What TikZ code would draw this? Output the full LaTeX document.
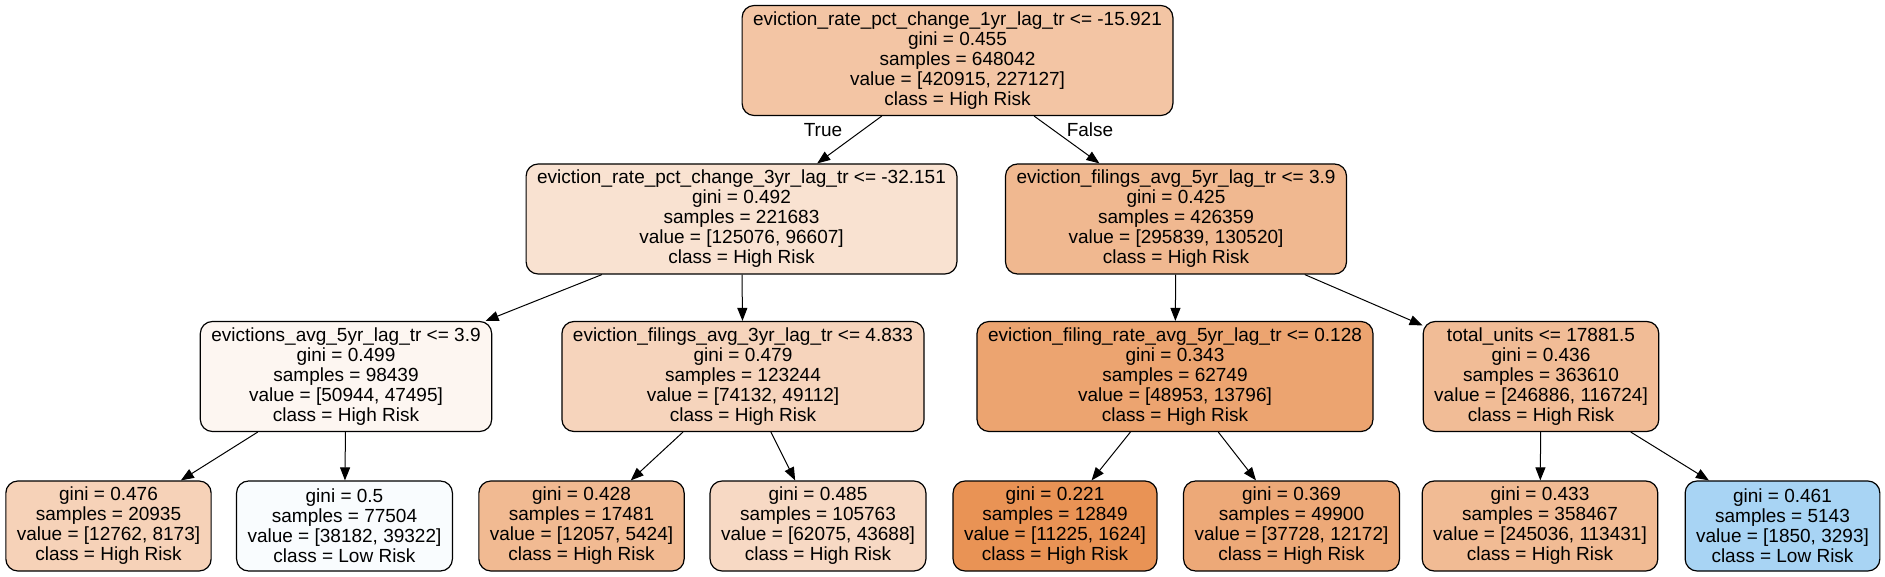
\documentclass[tikz,border=0pt]{standalone}
\usepackage{fontspec}
\setmainfont{Liberation Sans}
\usepackage{tikz}
\usetikzlibrary{arrows.meta,positioning}
\definecolor{hr}{RGB}{229,129,57}
\definecolor{lr}{RGB}{57,157,229}
\tikzstyle{tnode}=[draw=black,line width=0.6pt,rounded corners=6pt,align=center,
  inner xsep=5.5pt,inner ysep=1pt,font=\fontsize{9.5}{10}\selectfont]
\tikzstyle{split}=[tnode,minimum height=55pt]
\tikzstyle{leaf}=[tnode,minimum height=45pt]
\tikzstyle{edge}=[-{Triangle[length=6.5pt,width=5pt]},line width=0.5pt]

\begin{document}
\begin{tikzpicture}[x=0.5pt,y=-0.5pt,
    elabel/.style={inner sep=0pt,font=\fontsize{9.5}{10}\selectfont}
    ]
    \useasboundingbox (0,0) rectangle (1885,577);

    % root
    \node [split,fill=hr!46!white] (n0) at (957.5,60.5)
      {eviction\_rate\_pct\_change\_1yr\_lag\_tr <= -15.921\\gini = 0.455\\samples = 648042\\value = [420915, 227127]\\class = High Risk};

    % depth 1
    \node [split,fill=hr!23!white] (n1) at (741.5,219)
      {eviction\_rate\_pct\_change\_3yr\_lag\_tr <= -32.151\\gini = 0.492\\samples = 221683\\value = [125076, 96607]\\class = High Risk};
    \node [split,fill=hr!56!white] (n2) at (1176,219)
      {eviction\_filings\_avg\_5yr\_lag\_tr <= 3.9\\gini = 0.425\\samples = 426359\\value = [295839, 130520]\\class = High Risk};

    % depth 2
    \node [split,fill=hr!7!white] (n3) at (346,376.5)
      {evictions\_avg\_5yr\_lag\_tr <= 3.9\\gini = 0.499\\samples = 98439\\value = [50944, 47495]\\class = High Risk};
    \node [split,fill=hr!34!white] (n4) at (743,376.5)
      {eviction\_filings\_avg\_3yr\_lag\_tr <= 4.833\\gini = 0.479\\samples = 123244\\value = [74132, 49112]\\class = High Risk};
    \node [split,fill=hr!72!white] (n5) at (1175,376.5)
      {eviction\_filing\_rate\_avg\_5yr\_lag\_tr <= 0.128\\gini = 0.343\\samples = 62749\\value = [48953, 13796]\\class = High Risk};
    \node [split,fill=hr!53!white] (n6) at (1541,376.5)
      {total\_units <= 17881.5\\gini = 0.436\\samples = 363610\\value = [246886, 116724]\\class = High Risk};

    % leaves
    \node [leaf,fill=hr!36!white] (l1) at (108.5,526)
      {gini = 0.476\\samples = 20935\\value = [12762, 8173]\\class = High Risk};
    \node [leaf,fill=lr!3!white] (l2) at (344.5,526)
      {gini = 0.5\\samples = 77504\\value = [38182, 39322]\\class = Low Risk};
    \node [leaf,fill=hr!55!white] (l3) at (581.5,526)
      {gini = 0.428\\samples = 17481\\value = [12057, 5424]\\class = High Risk};
    \node [leaf,fill=hr!30!white] (l4) at (818,526)
      {gini = 0.485\\samples = 105763\\value = [62075, 43688]\\class = High Risk};
    \node [leaf,fill=hr!86!white] (l5) at (1055,526)
      {gini = 0.221\\samples = 12849\\value = [11225, 1624]\\class = High Risk};
    \node [leaf,fill=hr!68!white] (l6) at (1291.5,526)
      {gini = 0.369\\samples = 49900\\value = [37728, 12172]\\class = High Risk};
    \node [leaf,fill=hr!54!white] (l7) at (1540,526)
      {gini = 0.433\\samples = 358467\\value = [245036, 113431]\\class = High Risk};
    \node [leaf,fill=lr!44!white] (l8) at (1782.5,526)
      {gini = 0.461\\samples = 5143\\value = [1850, 3293]\\class = Low Risk};

    % branch labels
    \node [elabel] (lt) at (823,130) {True};
    \node [elabel] (lf) at (1090,130) {False};

    % edges
    \foreach \a/\b in {n0/n1,n0/n2,n1/n3,n1/n4,n2/n5,n2/n6,
      n3/l1,n3/l2,n4/l3,n4/l4,n5/l5,n5/l6,n6/l7,n6/l8} {
      \draw [edge] (\a) to (\b);
    }
  \end{tikzpicture}
\end{document}
